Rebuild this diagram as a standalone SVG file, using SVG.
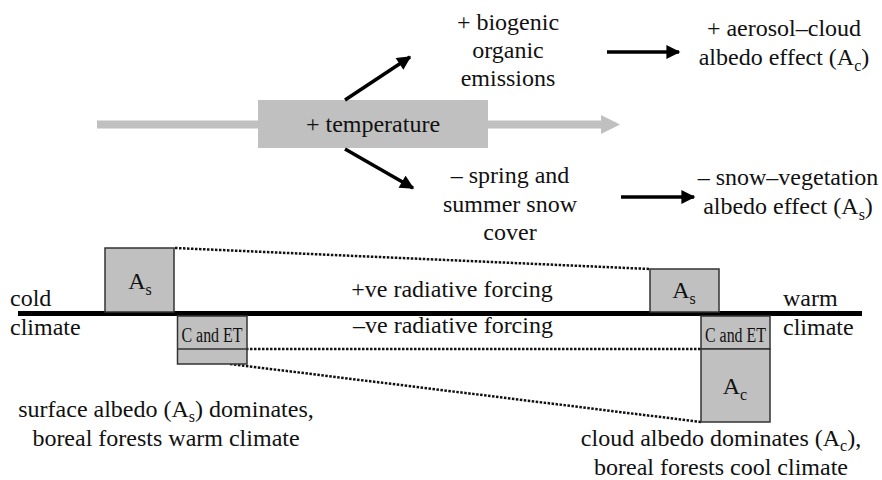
<svg xmlns="http://www.w3.org/2000/svg" width="882" height="480" viewBox="0 0 882 480">
<style>
text{font-family:"Liberation Serif","Times New Roman",serif;font-size:24px;fill:#111}
.c{text-anchor:middle}
.sm{font-size:16px}
.cet{font-size:20px}
.box{fill:#c0c0c0;stroke:#333;stroke-width:1.5}
.dot{stroke:#111;stroke-width:2.5;stroke-dasharray:2.5 1.5;fill:none}
.arr{stroke:#000;stroke-width:3.5;fill:none}
</style>
<defs>
<marker id="ah" viewBox="0 0 10 10" refX="9" refY="5" markerWidth="4.5" markerHeight="4" markerUnits="strokeWidth" orient="auto">
<path d="M0,0 L10,5 L0,10 z" fill="#000"/>
</marker>
</defs>
<g id="temperature-axis">
<line x1="97" y1="124.5" x2="602" y2="124.5" stroke="#c0c0c0" stroke-width="8"/>
<path d="M601,115 L620,124.5 L601,134 z" fill="#c0c0c0"/>
</g>
<g id="temperature">
<rect x="258" y="100" width="230" height="48" fill="#c0c0c0"/>
<text class="c" x="373" y="132">+ temperature</text>
</g>
<g id="connectors">
<line class="arr" x1="345" y1="100" x2="410" y2="57" marker-end="url(#ah)"/>
<line class="arr" x1="345" y1="149" x2="413" y2="188" marker-end="url(#ah)"/>
<line class="arr" x1="607" y1="52" x2="679" y2="52" marker-end="url(#ah)"/>
<line class="arr" x1="621" y1="197" x2="694" y2="197" marker-end="url(#ah)"/>
<line class="dot" x1="175" y1="248" x2="650" y2="269"/>
<line class="dot" x1="230" y1="349" x2="701" y2="349"/>
<line class="dot" x1="230" y1="364" x2="701" y2="422"/>
</g>
<g id="biogenic">
<text class="c" x="508" y="30">+ biogenic</text>
<text class="c" x="508" y="58">organic</text>
<text class="c" x="508" y="86">emissions</text>
</g>
<g id="aerosol-cloud">
<text class="c" x="784" y="36">+ aerosol–cloud</text>
<text class="c" x="784" y="65">albedo effect (A<tspan class="sm" dy="6">c</tspan><tspan dy="-6">)</tspan></text>
</g>
<g id="snow-cover">
<text class="c" x="510" y="183">– spring and</text>
<text class="c" x="510" y="212">summer snow</text>
<text class="c" x="510" y="240">cover</text>
</g>
<g id="snow-vegetation">
<text class="c" x="788" y="185">– snow–vegetation</text>
<text class="c" x="788" y="214">albedo effect (A<tspan class="sm" dy="6">s</tspan><tspan dy="-6">)</tspan></text>
</g>
<g id="axis">
<line x1="18" y1="313.5" x2="862" y2="313.5" stroke="#000" stroke-width="5"/>
<text x="10" y="306">cold</text>
<text x="10" y="335">climate</text>
<text x="783" y="306">warm</text>
<text x="783" y="335">climate</text>
<text class="c" x="452" y="297">+ve radiative forcing</text>
<text class="c" x="453" y="333">–ve radiative forcing</text>
</g>
<g id="cold-As">
<rect class="box" x="105" y="248" width="69" height="64"/>
<text class="c" x="140" y="289">A<tspan class="sm" dy="6">s</tspan></text>
</g>
<g id="cold-CET">
<rect class="box" x="177.5" y="316" width="69.5" height="48"/>
<line x1="177.5" y1="349" x2="247" y2="349" stroke="#333" stroke-width="1.5"/>
<text class="c cet" x="212" y="342" textLength="61" lengthAdjust="spacingAndGlyphs">C and ET</text>
</g>
<g id="warm-As">
<rect class="box" x="650" y="269" width="69" height="43"/>
<text class="c" x="684" y="298">A<tspan class="sm" dy="6">s</tspan></text>
</g>
<g id="warm-CET">
<rect class="box" x="701" y="316" width="69" height="33"/>
<text class="c cet" x="735.5" y="342" textLength="61" lengthAdjust="spacingAndGlyphs">C and ET</text>
</g>
<g id="warm-Ac">
<rect class="box" x="701" y="349" width="69" height="73"/>
<text class="c" x="735" y="394">A<tspan class="sm" dy="6">c</tspan></text>
</g>
<g id="cold-caption">
<text class="c" x="166" y="417">surface albedo (A<tspan class="sm" dy="5">s</tspan><tspan dy="-5">) dominates,</tspan></text>
<text class="c" x="166" y="446">boreal forests warm climate</text>
</g>
<g id="warm-caption">
<text class="c" x="721" y="446">cloud albedo dominates (A<tspan class="sm" dy="5">c</tspan><tspan dy="-5">),</tspan></text>
<text class="c" x="721" y="475">boreal forests cool climate</text>
</g>
</svg>
